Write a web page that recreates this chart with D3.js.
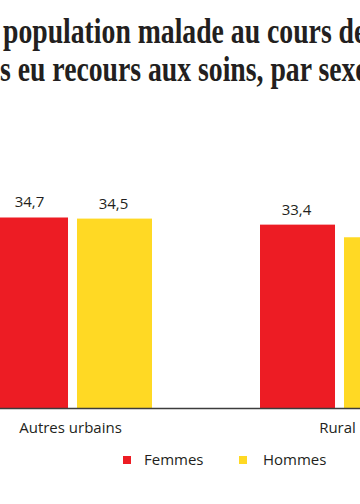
<!DOCTYPE html>
<html>
<head>
<meta charset="utf-8">
<script src="https://cdn.jsdelivr.net/npm/d3@7"></script>
<style>
  html, body { margin: 0; padding: 0; background: #fff; }
  svg { display: block; }
</style>
</head>
<body>
<svg id="chart" width="360" height="504"></svg>
<script>
// ---- data ----
const categories = ["Autres urbains", "Rural"];
const series = ["Femmes", "Hommes"];
const femmes = [34.7, 33.4];
const hommes = [34.5, 31.1];
const valueLabels = [["34,7", "34,5"], ["33,4", "31,1"]];
const titleLines = ["population malade au cours des", "s eu recours aux soins, par sexe"];

const colors = { Femmes: "#ED1C24", Hommes: "#FFD924" };
const textColor = "#231F20";

const svg = d3.select("#chart");
const W = 360, H = 504;
const baseline = 408;

// ---- scales ----
const x0 = d3.scaleBand().domain(categories).range([-61, 473]).paddingInner(0).paddingOuter(0);
const x1 = d3.scaleBand().domain(series).range([-79.5, 79.5]).paddingInner(0.107).paddingOuter(0);
const y = d3.scaleLinear().domain([0, 40]).range([baseline, baseline - 40 * 5.49]);

const rows = categories.map((c, i) => ({
  cat: c,
  vals: [
    { s: "Femmes", v: femmes[i], label: valueLabels[i][0] },
    { s: "Hommes", v: hommes[i], label: valueLabels[i][1] }
  ]
}));

// ---- title ----
const title = svg.append("g");
titleLines.forEach((t, i) => {
  title.append("text")
    .attr("transform", `translate(${i === 0 ? 3 : 0},${43 + i * 38}) scale(0.77,1)`)
    .attr("font-family", "'Liberation Serif', 'Times New Roman', serif")
    .attr("font-weight", "bold")
    .attr("font-size", 36)
    .attr("fill", textColor)
    .text(t);
});

// ---- bars ----
const groups = svg.append("g").selectAll("g")
  .data(rows).join("g")
  .attr("transform", d => `translate(${x0(d.cat) + x0.bandwidth() / 2},0)`);

groups.selectAll("rect")
  .data(d => d.vals).join("rect")
  .attr("x", d => x1(d.s))
  .attr("width", x1.bandwidth())
  .attr("y", d => y(d.v))
  .attr("height", d => y(0) - y(d.v))
  .attr("fill", d => colors[d.s]);

groups.selectAll("text.val")
  .data(d => d.vals).join("text")
  .attr("class", "val")
  .attr("x", d => x1(d.s) + x1.bandwidth() / 2 - 1)
  .attr("y", d => y(d.v) - 10)
  .attr("text-anchor", "middle")
  .attr("font-family", "'Open Sans', sans-serif")
  .attr("font-size", 15)
  .attr("fill", textColor)
  .text(d => d.label);

// ---- axis ----
const xAxis = d3.axisBottom(x0).tickSize(0).tickPadding(14);
const ax = svg.append("g")
  .attr("transform", `translate(0,${baseline})`)
  .call(xAxis);
ax.select(".domain").remove();
ax.selectAll("text")
  .attr("font-family", "'Open Sans', sans-serif")
  .attr("font-size", 15)
  .attr("fill", textColor)
  .attr("dx", -2);

svg.append("line")
  .attr("x1", 0).attr("x2", W)
  .attr("y1", baseline + 0.5).attr("y2", baseline + 0.5)
  .attr("stroke", "#3C3C3C")
  .attr("stroke-width", 1.5);

// ---- legend ----
const legendX = [123, 239];
const legend = svg.append("g").selectAll("g")
  .data(series).join("g")
  .attr("transform", (d, i) => `translate(${legendX[i]},456)`);
legend.append("rect")
  .attr("width", 8).attr("height", 8)
  .attr("fill", d => colors[d]);
legend.append("text")
  .attr("x", d => d === "Femmes" ? 21 : 24)
  .attr("y", 9)
  .attr("font-family", "'Open Sans', sans-serif")
  .attr("font-size", 15)
  .attr("fill", textColor)
  .text(d => d);
</script>
</body>
</html>
